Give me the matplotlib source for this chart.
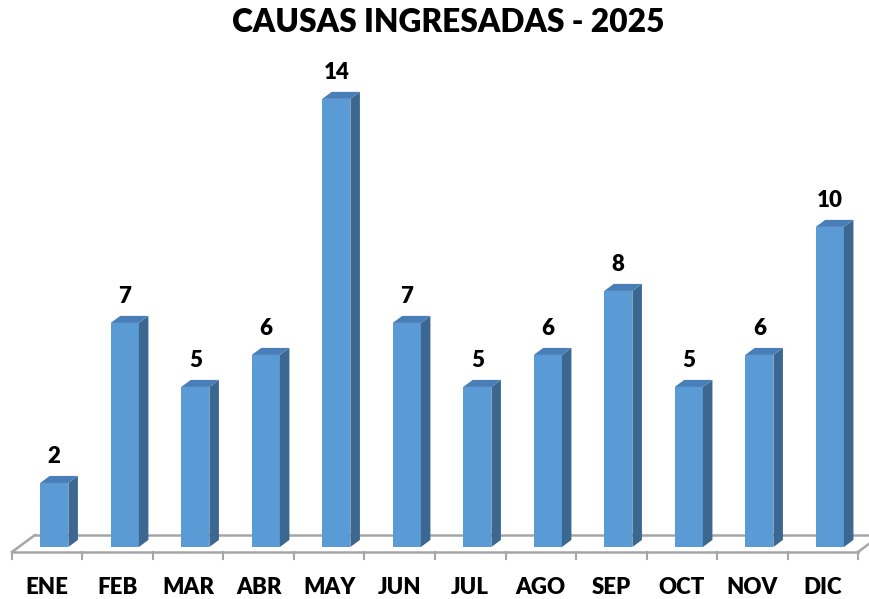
"""Causas ingresadas 2025 - 3D-style column chart."""

import matplotlib.pyplot as plt
from matplotlib.patches import Polygon

months = ["ENE", "FEB", "MAR", "ABR", "MAY", "JUN", "JUL", "AGO", "SEP", "OCT", "NOV", "DIC"]
causas = [2, 7, 5, 6, 14, 7, 5, 6, 8, 5, 6, 10]
title = "CAUSAS INGRESADAS - 2025"

FRONT = "#5B9BD5"
SIDE = "#3B6791"
TOP = "#4A7EB8"
FLOOR = "#A6A6A6"

# depth look, in data units
bar_w = 0.40
bar_shift = 0.10       # bar sits halfway into the floor depth
bar_dx, bar_dy = 0.135, 0.22
floor_front, floor_back = -0.156, 0.375
floor_dx = 0.326

fig = plt.figure(figsize=(8.7, 5.99), dpi=100)
ax = fig.add_axes([0, 0, 1, 1])
ax.set_xlim(-0.67, 11.67)
ax.set_ylim(-1.625, 17.09)
ax.axis("off")

n = len(months)
# floor outline
x0, x1 = -0.5, n - 0.5
ax.plot([x0, x1], [floor_front, floor_front], color=FLOOR, lw=1.8, zorder=1)
ax.plot([x0 + floor_dx, x1 + floor_dx], [floor_back, floor_back], color=FLOOR, lw=1.8, zorder=1)
ax.plot([x0, x0 + floor_dx], [floor_front, floor_back], color=FLOOR, lw=1.8, zorder=1)
ax.plot([x1, x1 + floor_dx], [floor_front, floor_back], color=FLOOR, lw=1.8, zorder=1)
for i in range(n + 1):
    ax.plot([i - 0.5, i - 0.5], [floor_front, floor_front - 0.22], color=FLOOR, lw=1.5, zorder=1)

for i, (m, v) in enumerate(zip(months, causas)):
    left = i + bar_shift - bar_w / 2
    right = left + bar_w
    ax.add_patch(Polygon([(left, 0), (right, 0), (right, v), (left, v)],
                         closed=True, facecolor=FRONT, edgecolor="none", zorder=3))
    ax.add_patch(Polygon([(right, 0), (right + bar_dx, bar_dy), (right + bar_dx, v + bar_dy), (right, v)],
                         closed=True, facecolor=SIDE, edgecolor="none", zorder=3))
    ax.add_patch(Polygon([(left, v), (right, v), (right + bar_dx, v + bar_dy), (left + bar_dx, v + bar_dy)],
                         closed=True, facecolor=TOP, edgecolor="none", zorder=3))
    ax.text(i + bar_shift, v + 0.82, str(v), ha="center", va="center",
            fontsize=16, fontweight="heavy", family="Lato", zorder=4)
    ax.text(i, -1.26, m, ha="center", va="center",
            fontsize=16, fontweight="heavy", family="Lato")

fig.text(0.515, 0.962, title, ha="center", va="center",
         fontsize=22.8, fontweight="heavy", family="Lato")

fig.savefig("out.png", dpi=100)
plt.close(fig)
